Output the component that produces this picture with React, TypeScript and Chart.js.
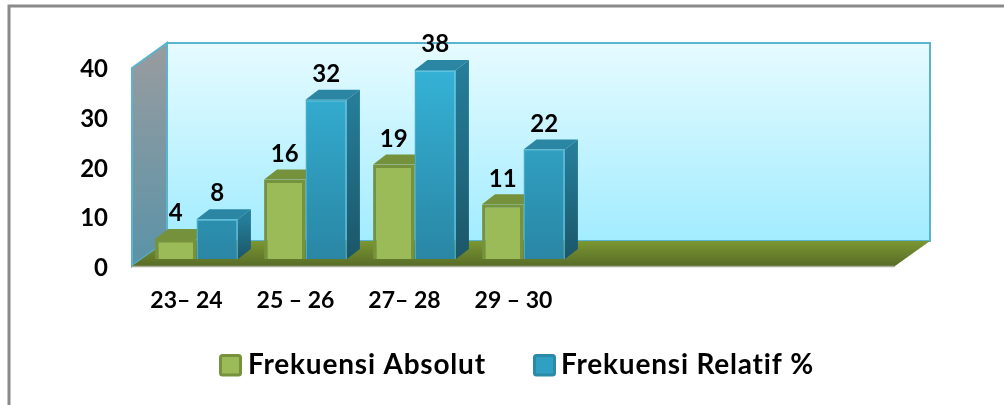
import React, { useEffect, useRef } from "react";
import { Chart, registerables } from "chart.js";

Chart.register(...registerables);

const categories = ["23– 24", "25 – 26", "27– 28", "29 – 30", "", "", ""];
const absolut = [4, 16, 19, 11, null, null, null];
const relatif = [8, 32, 38, 22, null, null, null];
const seriesNames = ["Frekuensi Absolut", "Frekuensi Relatif %"];
const yTicks = { min: 0, max: 40, step: 10 };

const FONT = "Lato, 'Open Sans', sans-serif";

const scene = {
  id: "scene3d",
  beforeDraw(chart: any) {
    const c = chart.ctx;
    c.save();
    c.fillStyle = "#fff";
    c.fillRect(0, 0, chart.width, chart.height);
    c.strokeStyle = "#8a8a8a";
    c.lineWidth = 3;
    c.beginPath();
    c.moveTo(9, chart.height);
    c.lineTo(9, 6);
    c.lineTo(chart.width, 6);
    c.stroke();
    c.restore();
  },
  beforeDatasetsDraw(chart: any) {
    const c = chart.ctx;
    const { left, right } = chart.chartArea;
    const sy = chart.scales.y;
    const y0 = sy.getPixelForValue(yTicks.min);
    const y1 = sy.getPixelForValue(yTicks.max);
    const fl = left - 10, fr = right - 10;
    const ft = y1 + 8, fb = y0 + 7;
    const dx = 35, dy = -25;
    c.save();
    // back wall
    let g = c.createLinearGradient(0, ft + dy, 0, fb + dy);
    g.addColorStop(0, "#e6fbff");
    g.addColorStop(1, "#a2ecff");
    c.fillStyle = g;
    c.fillRect(fl + dx, ft + dy, fr - fl, fb - ft);
    c.strokeStyle = "#5ab3cf";
    c.lineWidth = 2;
    c.strokeRect(fl + dx, ft + dy, fr - fl, fb - ft);
    // left wall
    g = c.createLinearGradient(0, ft + dy, 0, fb);
    g.addColorStop(0, "#999c9f");
    g.addColorStop(1, "#5a93a8");
    c.fillStyle = g;
    c.beginPath();
    c.moveTo(fl, ft);
    c.lineTo(fl + dx, ft + dy);
    c.lineTo(fl + dx, fb + dy);
    c.lineTo(fl, fb);
    c.closePath();
    c.fill();
    c.stroke();
    // floor
    g = c.createLinearGradient(0, fb + dy, 0, fb);
    g.addColorStop(0, "#7b9732");
    g.addColorStop(1, "#586c27");
    c.fillStyle = g;
    c.beginPath();
    c.moveTo(fl, fb);
    c.lineTo(fl + dx, fb + dy);
    c.lineTo(fr + dx, fb + dy);
    c.lineTo(fr, fb);
    c.closePath();
    c.fill();
    c.strokeStyle = "#a9ad9a";
    c.lineWidth = 1.5;
    c.beginPath();
    c.moveTo(fl, fb + 0.5);
    c.lineTo(fr, fb + 0.5);
    c.stroke();
    // bar tops and sides
    const bx = 13, by = -10;
    const styles = [
      { top: "#76913b", sideA: "#66802f", sideB: "#556b27" },
      { top: "#2b86a4", sideA: "#257d99", sideB: "#1c5668" },
    ];
    chart.data.datasets.forEach((_: any, i: number) => {
      chart.getDatasetMeta(i).data.forEach((el: any, k: number) => {
        if (chart.data.datasets[i].data[k] == null) return;
        const { x, y, base, width } = el.getProps(["x", "y", "base", "width"], true);
        const l = x - width / 2, r = x + width / 2;
        c.fillStyle = styles[i].top;
        c.beginPath();
        c.moveTo(l, y);
        c.lineTo(l + bx, y + by);
        c.lineTo(r + bx, y + by);
        c.lineTo(r, y);
        c.closePath();
        c.fill();
        const sg = c.createLinearGradient(0, y, 0, base);
        sg.addColorStop(0, styles[i].sideA);
        sg.addColorStop(1, styles[i].sideB);
        c.fillStyle = sg;
        c.beginPath();
        c.moveTo(r, y);
        c.lineTo(r + bx, y + by);
        c.lineTo(r + bx, base + by);
        c.lineTo(r, base);
        c.closePath();
        c.fill();
      });
    });
    c.restore();
  },
  afterDatasetsDraw(chart: any) {
    const c = chart.ctx;
    c.save();
    c.fillStyle = "#000";
    c.font = `bold 24px ${FONT}`;
    c.textAlign = "center";
    c.textBaseline = "middle";
    chart.data.datasets.forEach((ds: any, i: number) => {
      chart.getDatasetMeta(i).data.forEach((el: any, k: number) => {
        const v = ds.data[k];
        if (v == null) return;
        const { x, y } = el.getProps(["x", "y"], true);
        c.fillText(String(v), x, y - 25.5);
      });
    });
    // legend
    const entries = [
      { box: 219, text: 248, fill: "#9bbb59", stroke: "#76923c", name: seriesNames[0] },
      { box: 533, text: 561, fill: "#2f9fc2", stroke: "#2a8aa8", name: seriesNames[1] },
    ];
    c.textAlign = "left";
    c.font = `bold 28px ${FONT}`;
    (c as any).letterSpacing = "0.8px";
    entries.forEach((e) => {
      c.fillStyle = e.fill;
      c.strokeStyle = e.stroke;
      c.lineWidth = 3;
      c.beginPath();
      c.roundRect(e.box + 1.5, 355.5, 20, 19.5, 2);
      c.fill();
      c.stroke();
      c.fillStyle = "#000";
      c.fillText(e.name, e.text, 365);
    });
    c.restore();
  },
};

const blueFill = (ctx: any) => {
  const s = ctx.chart.scales.y;
  if (!s || !Number.isFinite(s.top) || !Number.isFinite(s.bottom)) return "#33b0d4";
  const g = ctx.chart.ctx.createLinearGradient(0, s.top, 0, s.bottom);
  g.addColorStop(0, "#35b4d9");
  g.addColorStop(1, "#2a86a4");
  return g;
};

export default function App() {
  const ref = useRef<HTMLCanvasElement>(null);
  useEffect(() => {
    const chart = new Chart(ref.current as HTMLCanvasElement, {
      type: "bar",
      plugins: [scene],
      data: {
        labels: categories,
        datasets: [
          {
            label: seriesNames[0],
            data: absolut,
            backgroundColor: "#9bbb59",
            borderColor: "#76923c",
            borderWidth: 3.5,
            categoryPercentage: 0.76,
            barPercentage: 1,
          },
          {
            label: seriesNames[1],
            data: relatif,
            backgroundColor: blueFill,
            borderColor: "#45adcc",
            borderWidth: 1.5,
            categoryPercentage: 0.76,
            barPercentage: 1,
          },
        ],
      } as any,
      options: {
        responsive: false,
        animation: false,
        layout: { padding: { left: 0, right: 99, top: 60, bottom: 0 } },
        plugins: {
          tooltip: { enabled: false },
          legend: { display: false },
        },
        scales: {
          x: {
            grid: { display: false, drawTicks: false },
            border: { display: false },
            afterFit: (s: any) => { s.height = 146; },
            ticks: {
              color: "#000",
              font: { family: FONT, size: 23, weight: "bold" },
              padding: 28,
              labelOffset: -10,
              maxRotation: 0,
              autoSkip: false,
            },
          },
          y: {
            min: yTicks.min,
            max: yTicks.max,
            grid: { display: false, drawTicks: false },
            border: { display: false },
            afterFit: (s: any) => { s.width = 142; },
            ticks: {
              stepSize: yTicks.step,
              color: "#000",
              font: { family: FONT, size: 24, weight: "bold" },
              padding: 34,
              labelOffset: 9.5,
            },
          },
        },
      } as any,
    });
    return () => chart.destroy();
  }, []);
  return (
    <div style={{ position: "fixed", left: 0, top: 0, width: 1004, height: 405, background: "#fff" }}>
      <canvas ref={ref} width={1004} height={405} style={{ display: "block" }} />
    </div>
  );
}
